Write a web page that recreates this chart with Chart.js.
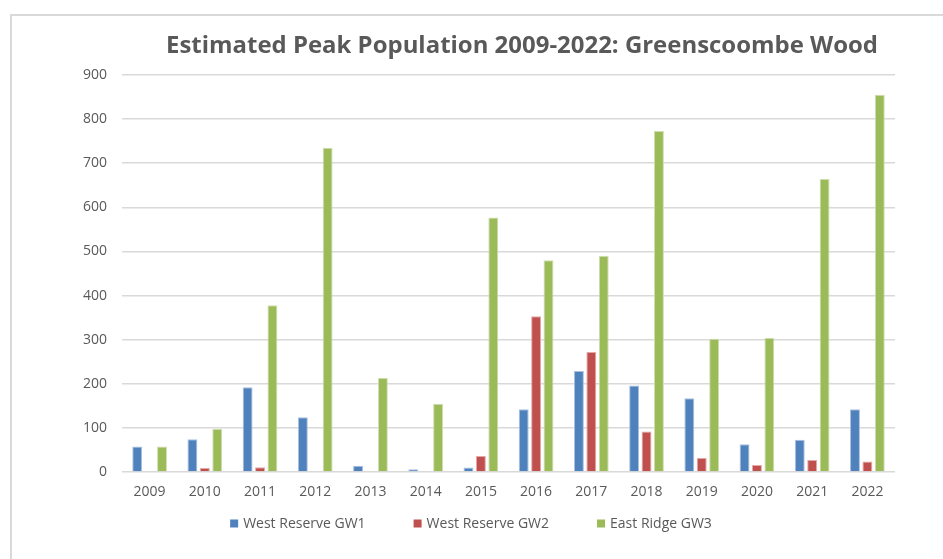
<!DOCTYPE html>
<html>
<head>
<meta charset="utf-8">
<script src="https://cdn.jsdelivr.net/npm/chart.js@4.4.0/dist/chart.umd.min.js"></script>
<style>
html,body{margin:0;padding:0;background:#fff;overflow:hidden}
#wrap{position:relative;width:943px;height:559px}
#frame{position:absolute;left:10px;top:14px;width:2000px;height:2000px;border-left:2px solid #d9d9d9;border-top:2px solid #d9d9d9;box-sizing:border-box}
canvas{position:absolute;left:0;top:0}
</style>
</head>
<body>
<div id="wrap"><div id="frame"></div><canvas id="c" width="943" height="559"></canvas></div>
<script>
const titleText = 'Estimated Peak Population 2009-2022: Greenscoombe Wood';
const years = ['2009','2010','2011','2012','2013','2014','2015','2016','2017','2018','2019','2020','2021','2022'];
const seriesNames = ['West Reserve GW1','West Reserve GW2','East Ridge GW3'];
const westReserveGW1 = [58, 74, 192, 124, 14, 6, 10, 142, 229, 196, 167, 63, 73, 142];
const westReserveGW2 = [null, 9, 11, null, null, null, 36, 353, 272, 92, 32, 16, 27, 24];
const eastRidgeGW3 = [58, 98, 378, 735, 213, 155, 577, 480, 490, 773, 302, 304, 664, 855];
const yTicks = [0, 100, 200, 300, 400, 500, 600, 700, 800, 900];

const fills = ['#4f81bd', '#c0504d', '#9bbb59'];
const edges = ['#a9c1df', '#e2a9a7', '#cfdeae'];
const textColor = '#595959';
const fontFam = "'Open Sans', sans-serif";

const titleLegendPlugin = {
  id: 'titleLegend',
  afterDraw(chart) {
    const ctx = chart.ctx;
    ctx.save();
    ctx.font = "bold 23.5px " + fontFam;
    const tw = ctx.measureText(titleText).width;
    const sx = 712 / tw;
    ctx.fillStyle = textColor;
    ctx.textAlign = 'center';
    ctx.textBaseline = 'alphabetic';
    ctx.translate(522, 53);
    ctx.scale(sx, 1);
    ctx.fillText(titleText, 0, 0);
    ctx.restore();

    ctx.save();
    ctx.font = "14px " + fontFam;
    ctx.textBaseline = 'middle';
    ctx.textAlign = 'left';
    const box = 8, gapText = 5, gapItem = 48;
    const ds = chart.data.datasets;
    const widths = ds.map(d => box + gapText + ctx.measureText(d.label).width);
    const total = widths.reduce((a, b) => a + b, 0) + gapItem * (ds.length - 1);
    let x = 471 - total / 2;
    const y = 524;
    ds.forEach((d, i) => {
      ctx.fillStyle = d.backgroundColor;
      ctx.fillRect(x, y - box / 2 - 0.5, box, box);
      ctx.fillStyle = textColor;
      ctx.fillText(d.label, x + box + gapText, y);
      x += widths[i] + gapItem;
    });
    ctx.restore();
  }
};

new Chart(document.getElementById('c'), {
  type: 'bar',
  data: {
    labels: years,
    datasets: [
      { label: seriesNames[0], data: westReserveGW1, backgroundColor: fills[0], borderColor: edges[0], borderWidth: 1 },
      { label: seriesNames[1], data: westReserveGW2, backgroundColor: fills[1], borderColor: edges[1], borderWidth: 1 },
      { label: seriesNames[2], data: eastRidgeGW3, backgroundColor: fills[2], borderColor: edges[2], borderWidth: 1 }
    ]
  },
  options: {
    responsive: false,
    animation: false,
    devicePixelRatio: 1,
    layout: { padding: { top: 75, right: 48, bottom: 0, left: 0 } },
    datasets: { bar: { categoryPercentage: 0.674, barPercentage: 0.8, borderSkipped: 'bottom' } },
    plugins: {
      legend: { display: false },
      title: { display: false },
      tooltip: { enabled: false }
    },
    scales: {
      x: {
        grid: { display: false, drawTicks: false },
        border: { display: false },
        ticks: { color: textColor, font: { family: fontFam, size: 14 }, padding: 12, maxRotation: 0 },
        afterFit(scale) { scale.height = 87; }
      },
      y: {
        min: yTicks[0],
        max: yTicks[yTicks.length - 1],
        grid: { color: '#d9d9d9', lineWidth: 1.5, drawTicks: false },
        border: { display: false },
        ticks: { stepSize: 100, color: textColor, font: { family: fontFam, size: 14 }, padding: 15 },
        afterFit(scale) { scale.width = 122; }
      }
    }
  },
  plugins: [titleLegendPlugin]
});
</script>
</body>
</html>
